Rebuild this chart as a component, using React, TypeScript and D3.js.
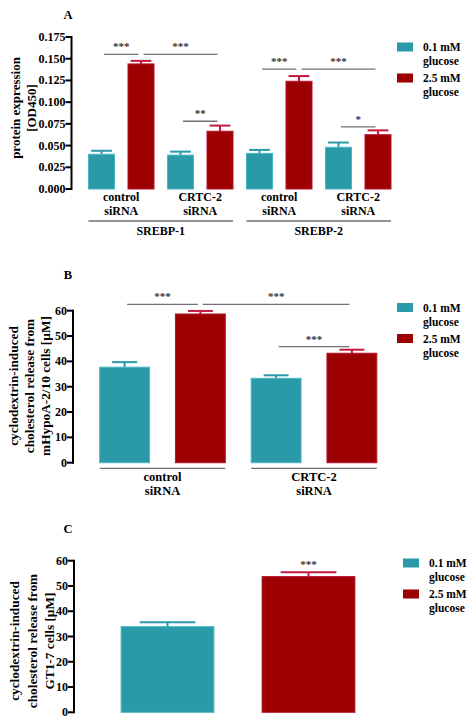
import React from "react";
import * as d3 from "d3";

// ---------- data ----------
const seriesKeys = ["low", "high"];
const legendLine1 = ["0.1 mM", "2.5 mM"];
const legendLine2 = ["glucose", "glucose"];

const aCategories = ["control|siRNA", "CRTC-2|siRNA", "control|siRNA", "CRTC-2|siRNA"];
const aGroups = ["SREBP-1", "SREBP-2"];
const aLow = [0.040, 0.039, 0.041, 0.048];
const aLowErr = [0.004, 0.004, 0.004, 0.0055];
const aHigh = [0.144, 0.0665, 0.124, 0.0625];
const aHighErr = [0.0035, 0.0065, 0.006, 0.005];
const aTicks = [0, 0.025, 0.05, 0.075, 0.1, 0.125, 0.15, 0.175];
const aSig = [
  { a: [0, 0], b: [0, 1], y: 0.155, label: "***" },
  { a: [0, 1], b: [1, 1], y: 0.155, label: "***" },
  { a: [1, 0], b: [1, 1], y: 0.078, label: "**" },
  { a: [2, 0], b: [2, 1], y: 0.138, label: "***" },
  { a: [2, 1], b: [3, 1], y: 0.138, label: "***" },
  { a: [3, 0], b: [3, 1], y: 0.0715, label: "*" },
];

const bCategories = ["control|siRNA", "CRTC-2|siRNA"];
const bLow = [37.7, 33.3];
const bLowErr = [2.0, 1.2];
const bHigh = [58.7, 43.2];
const bHighErr = [1.2, 1.4];
const bTicks = [0, 10, 20, 30, 40, 50, 60];
const bSig = [
  { a: [0, 0], b: [0, 1], y: 62.5, label: "***" },
  { a: [0, 1], b: [1, 1], y: 62.5, label: "***" },
  { a: [1, 0], b: [1, 1], y: 45.8, label: "***" },
];

const cCategories = [""];
const cLow = [33.9];
const cLowErr = [1.7];
const cHigh = [53.7];
const cHighErr = [1.7];
const cTicks = [0, 10, 20, 30, 40, 50, 60];
const cStarValue = 59;

// ---------- style ----------
const FONT = "'Liberation Serif', 'Times New Roman', serif";
const TEAL = "#2a99a8";
const TEAL_EDGE = "#49b6c4";
const RED = "#9c0000";
const RED_EDGE = "#b8102c";
const RED_ERR = "#c3183e";
const GRAY = "#6e7278";

type PanelProps = {
  letter: string;
  letterY: number;
  axisX: number;
  yTop: number;
  yBottom: number;
  yMax: number;
  ticks: number[];
  tickFmt: (v: number) => string;
  xStart: number;
  xEnd: number;
  categories: string[];
  low: number[];
  lowErr: number[];
  high: number[];
  highErr: number[];
  capFrac: number;
  sig: { a: number[]; b: number[]; y: number; label: string }[];
  titleLines: string[];
  titleXs: number[];
  titleY: number;
  titleFont: number;
  catFont: number;
  catY: number;
  groups?: string[];
  groupLineY?: number;
  groupLabelY?: number;
  catUnderlineY?: number;
  legendX: number;
  legendY: number;
  star?: number;
};

function Panel(p: PanelProps) {
  const y = d3.scaleLinear().domain([0, p.yMax]).range([p.yBottom, p.yTop]);
  const xCat = d3
    .scaleBand<number>()
    .domain(p.categories.map((_, i) => i))
    .range([p.xStart, p.xEnd])
    .padding(0);
  const xSub = d3
    .scaleBand<string>()
    .domain(seriesKeys)
    .range([0, xCat.bandwidth()])
    .paddingInner(0.342)
    .paddingOuter(0.171);
  const bw = xSub.bandwidth();
  const vals = [p.low, p.high];
  const errs = [p.lowErr, p.highErr];
  const cx = (ci: number, si: number) => (xCat(ci) as number) + (xSub(seriesKeys[si]) as number) + bw / 2;

  const bars: React.ReactNode[] = [];
  p.categories.forEach((_, ci) => {
    seriesKeys.forEach((k, si) => {
      const v = vals[si][ci];
      const e = errs[si][ci];
      const x0 = (xCat(ci) as number) + (xSub(k) as number);
      const c = x0 + bw / 2;
      const errColor = si === 0 ? TEAL : RED_ERR;
      const cap = bw * p.capFrac;
      bars.push(
        <g key={`b${ci}${si}`}>
          <line x1={c} x2={c} y1={y(v)} y2={y(v + e)} stroke={errColor} strokeWidth={2} />
          <line x1={c - cap / 2} x2={c + cap / 2} y1={y(v + e)} y2={y(v + e)} stroke={errColor} strokeWidth={2} />
          <rect
            x={x0}
            y={y(v)}
            width={bw}
            height={y(0) - y(v)}
            fill={si === 0 ? TEAL : RED}
            stroke={si === 0 ? TEAL_EDGE : RED_EDGE}
            strokeWidth={1}
          />
        </g>
      );
    });
  });

  return (
    <g fontFamily={FONT} fontWeight="bold">
      <text x={68} y={p.letterY} fontSize={12.5} textAnchor="middle" dominantBaseline="central">
        {p.letter}
      </text>
      {/* y axis */}
      <line x1={p.axisX} x2={p.axisX} y1={y(0) + 1} y2={y(p.yMax) - 1} stroke="#000" strokeWidth={2} />
      {p.ticks.map((t) => (
        <g key={t}>
          <line x1={p.axisX - 6} x2={p.axisX} y1={y(t)} y2={y(t)} stroke="#000" strokeWidth={2} />
          <text x={p.axisX - 6} y={y(t)} fontSize={12} textAnchor="end" dominantBaseline="central">
            {p.tickFmt(t)}
          </text>
        </g>
      ))}
      {/* title */}
      {p.titleLines.map((s, i) => (
        <text
          key={i}
          transform={`translate(${p.titleXs[i]},${p.titleY}) rotate(-90)`}
          fontSize={p.titleFont}
          textAnchor="middle"
          dominantBaseline="central"
        >
          {s}
        </text>
      ))}
      {bars}
      {/* significance */}
      {p.sig.map((s, i) => {
        const x1 = cx(s.a[0], s.a[1]) + 2.5;
        const x2 = cx(s.b[0], s.b[1]) - 2.5;
        return (
          <g key={i}>
            <line x1={x1} x2={x2} y1={y(s.y)} y2={y(s.y)} stroke={GRAY} strokeWidth={1.3} />
            <text x={(x1 + x2) / 2} y={y(s.y) - 4} fontSize={11} fill="#333" textAnchor="middle">
              {s.label}
            </text>
          </g>
        );
      })}
      {p.star !== undefined && (
        <text x={cx(0, 1)} y={y(p.star) + 5} fontSize={11} fill="#333" textAnchor="middle">
          ***
        </text>
      )}
      {/* category labels */}
      {p.categories.map((c, ci) => {
        if (!c) return null;
        const [l1, l2] = c.split("|");
        const mid = (xCat(ci) as number) + xCat.bandwidth() / 2;
        return (
          <g key={ci} fontSize={p.catFont} textAnchor="middle">
            <text x={mid} y={p.catY} dominantBaseline="central">{l1}</text>
            <text x={mid} y={p.catY + 14} dominantBaseline="central">{l2}</text>
          </g>
        );
      })}
      {p.catUnderlineY !== undefined &&
        p.categories.map((_, ci) => (
          <line
            key={ci}
            x1={cx(ci, 0) - bw / 2}
            x2={cx(ci, 1) + bw / 2}
            y1={p.catUnderlineY}
            y2={p.catUnderlineY}
            stroke={GRAY}
            strokeWidth={1.3}
          />
        ))}
      {p.groups &&
        p.groups.map((g, gi) => {
          const c0 = gi * 2;
          const c1 = gi * 2 + 1;
          const x1 = cx(c0, 0) - bw / 2;
          const x2 = cx(c1, 1) + bw / 2;
          return (
            <g key={gi}>
              <line x1={x1} x2={x2} y1={p.groupLineY} y2={p.groupLineY} stroke={GRAY} strokeWidth={1.3} />
              <text x={(x1 + x2) / 2} y={p.groupLabelY} fontSize={12} textAnchor="middle" dominantBaseline="central">
                {g}
              </text>
            </g>
          );
        })}
      {/* legend */}
      {seriesKeys.map((k, i) => (
        <g key={k} transform={`translate(${p.legendX},${p.legendY + i * 31})`} fontSize={11.5}>
          <rect x={0} y={-4.5} width={16} height={9} fill={i === 0 ? TEAL : RED} />
          <text x={26} y={0} dominantBaseline="central">{legendLine1[i]}</text>
          <text x={26} y={14} dominantBaseline="central">{legendLine2[i]}</text>
        </g>
      ))}
    </g>
  );
}

export default function App() {
  return (
    <svg
      width={474}
      height={719}
      style={{ position: "absolute", left: 0, top: 0, background: "#fff" }}
    >
      <rect width={474} height={719} fill="#fff" />
      <Panel
        letter="A"
        letterY={15}
        axisX={71.5}
        yTop={37}
        yBottom={189}
        yMax={0.175}
        ticks={aTicks}
        tickFmt={d3.format(".3f")}
        xStart={81.75}
        xEnd={397.75}
        categories={aCategories}
        low={aLow}
        lowErr={aLowErr}
        high={aHigh}
        highErr={aHighErr}
        capFrac={0.8}
        sig={aSig}
        titleLines={["protein expression", "[OD450]"]}
        titleXs={[15, 31]}
        titleY={108}
        titleFont={13}
        catFont={12}
        catY={197}
        groups={aGroups}
        groupLineY={221}
        groupLabelY={231}
        legendX={397}
        legendY={47}
      />
      <Panel
        letter="B"
        letterY={275}
        axisX={73}
        yTop={310.7}
        yBottom={462.7}
        yMax={60}
        ticks={bTicks}
        tickFmt={d3.format("d")}
        xStart={86.75}
        xEnd={389.75}
        categories={bCategories}
        low={bLow}
        lowErr={bLowErr}
        high={bHigh}
        highErr={bHighErr}
        capFrac={0.5}
        sig={bSig}
        titleLines={["cyclodextrin-induced", "cholesterol release from", "mHypoA-2/10 cells [µM]"]}
        titleXs={[13, 29, 45]}
        titleY={386}
        titleFont={13.3}
        catFont={12.5}
        catY={477}
        catUnderlineY={468.3}
        legendX={397}
        legendY={307.5}
      />
      <Panel
        letter="C"
        letterY={529}
        axisX={74}
        yTop={560.7}
        yBottom={712.3}
        yMax={60}
        ticks={cTicks}
        tickFmt={d3.format("d")}
        xStart={97}
        xEnd={379}
        categories={cCategories}
        low={cLow}
        lowErr={cLowErr}
        high={cHigh}
        highErr={cHighErr}
        capFrac={0.6}
        sig={[]}
        titleLines={["cyclodextrin-induced", "cholesterol release from", "GT1-7 cells [µM]"]}
        titleXs={[14, 32, 49]}
        titleY={641}
        titleFont={13.3}
        catFont={12}
        catY={0}
        legendX={403}
        legendY={563}
        star={cStarValue}
      />
    </svg>
  );
}
